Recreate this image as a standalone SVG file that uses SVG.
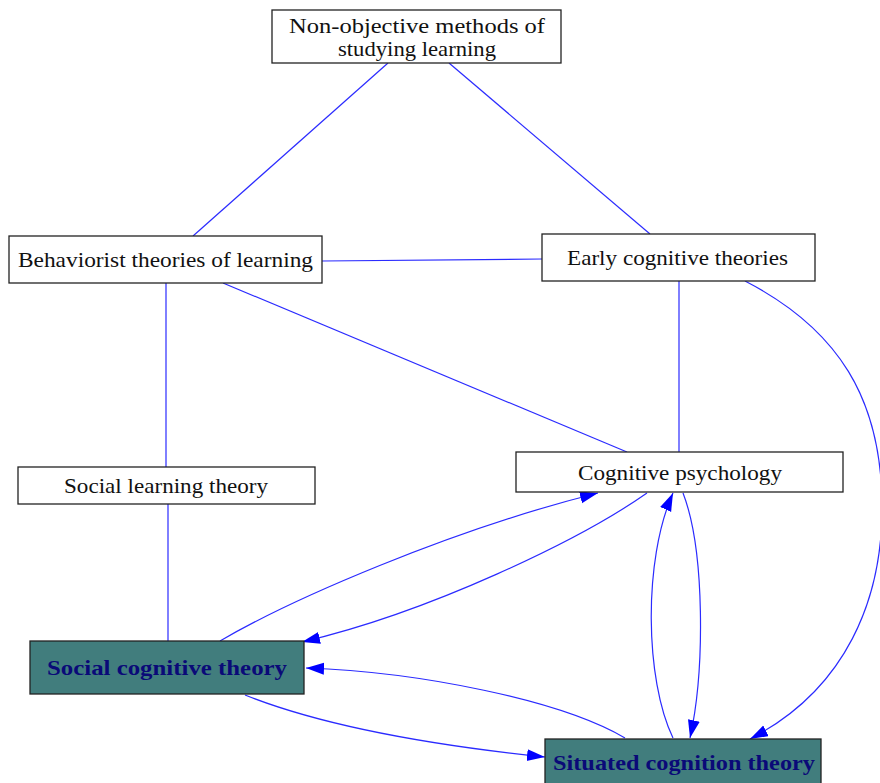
<svg xmlns="http://www.w3.org/2000/svg" width="880" height="783" viewBox="0 0 880 783">
  <style>
    .box { fill: #ffffff; stroke: #222222; stroke-width: 1.3; }
    .hl { fill: #417d7d; stroke: #222222; stroke-width: 1.3; }
    .lbl { font-family: "Liberation Serif", "Times New Roman", serif; font-size: 22px; fill: #111111; text-anchor: middle; }
    .hlt { font-family: "Liberation Serif", "Times New Roman", serif; font-size: 22px; font-weight: bold; fill: #0a0a78; text-anchor: middle; }
    .edge { fill: none; stroke: #2b2bff; stroke-width: 1.2; }
  </style>
  <defs>
    <marker id="arrow" markerUnits="userSpaceOnUse" markerWidth="20" markerHeight="14" refX="18" refY="6" orient="auto">
      <path d="M0,0 L18,6 L0,12 Z" fill="#0000ff"/>
    </marker>
  </defs>

  <rect width="880" height="783" fill="#ffffff"/>

  <g id="connectors">
    <line class="edge" x1="388" y1="63" x2="193" y2="236"/>
    <line class="edge" x1="449" y1="63" x2="650" y2="234"/>
    <line class="edge" x1="322" y1="261" x2="542" y2="259"/>
    <line class="edge" x1="166" y1="283" x2="166" y2="467"/>
    <line class="edge" x1="223" y1="283" x2="627" y2="452"/>
    <line class="edge" x1="679" y1="281" x2="679" y2="452"/>
    <line class="edge" x1="168" y1="504" x2="168" y2="641"/>
    <path class="edge" marker-end="url(#arrow)" d="M745,281 C840,330 880,400 882,500 C884,600 845,690 750,739"/>
    <path class="edge" marker-end="url(#arrow)" d="M220,641 C290,600 450,530 598,493"/>
    <path class="edge" marker-end="url(#arrow)" d="M647,493 C580,540 430,612 302,642"/>
    <path class="edge" marker-end="url(#arrow)" d="M625,738 C560,700 420,672 306,668"/>
    <path class="edge" marker-end="url(#arrow)" d="M245,695 C320,725 430,745 545,757"/>
    <path class="edge" marker-end="url(#arrow)" d="M673,738 C645,680 643,560 673,493"/>
    <path class="edge" marker-end="url(#arrow)" d="M683,493 C705,550 705,670 690,738"/>
  </g>

  <g id="non-objective">
    <rect class="box" x="272" y="10" width="289" height="53"/>
    <text class="lbl" x="417" y="33" textLength="256" lengthAdjust="spacingAndGlyphs">Non-objective methods of</text>
    <text class="lbl" x="417" y="56" textLength="158" lengthAdjust="spacingAndGlyphs">studying learning</text>
  </g>

  <g id="behaviorist">
    <rect class="box" x="9" y="236" width="313" height="47"/>
    <text class="lbl" x="165.5" y="267" textLength="295" lengthAdjust="spacingAndGlyphs">Behaviorist theories of learning</text>
  </g>

  <g id="early-cognitive">
    <rect class="box" x="542" y="234" width="273" height="47"/>
    <text class="lbl" x="677.5" y="265" textLength="221" lengthAdjust="spacingAndGlyphs">Early cognitive theories</text>
  </g>

  <g id="social-learning">
    <rect class="box" x="18" y="467" width="297" height="37"/>
    <text class="lbl" x="166" y="493" textLength="204" lengthAdjust="spacingAndGlyphs">Social learning theory</text>
  </g>

  <g id="cognitive-psychology">
    <rect class="box" x="516" y="452" width="327" height="40"/>
    <text class="lbl" x="680" y="480" textLength="204" lengthAdjust="spacingAndGlyphs">Cognitive psychology</text>
  </g>

  <g id="social-cognitive">
    <rect class="hl" x="30" y="641" width="274" height="53"/>
    <text class="hlt" x="167" y="675" textLength="240" lengthAdjust="spacingAndGlyphs">Social cognitive theory</text>
  </g>

  <g id="situated-cognition">
    <rect class="hl" x="545" y="739" width="276" height="50"/>
    <text class="hlt" x="684" y="770" textLength="262" lengthAdjust="spacingAndGlyphs">Situated cognition theory</text>
  </g>
</svg>
